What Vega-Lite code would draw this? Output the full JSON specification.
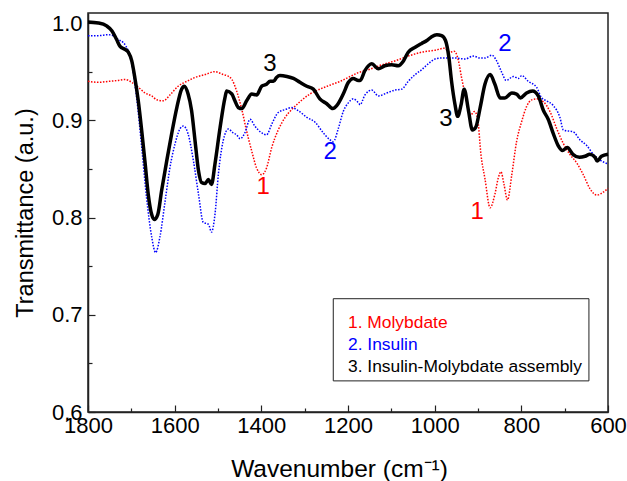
{
  "$schema": "https://vega.github.io/schema/vega-lite/v6.json",
  "autosize": {"type": "none"},
  "width": 520,
  "height": 399,
  "padding": {"left": 88, "top": 13, "right": 19, "bottom": 69},
  "background": "white",
  "config": {
    "font": "Liberation Sans",
    "view": {"stroke": "#222222", "strokeWidth": 1.5},
    "axis": {
      "grid": false,
      "domainColor": "#222222",
      "domainWidth": 1.5,
      "tickColor": "#222222",
      "tickWidth": 1.2,
      "tickSize": -7,
      "labelFont": "Liberation Sans",
      "labelFontSize": 22,
      "labelColor": "black",
      "titleFont": "Liberation Sans",
      "titleFontSize": 23.5,
      "titleFontWeight": "normal",
      "titleColor": "black"
    }
  },
  "resolve": {"axis": {"x": "independent", "y": "independent"}},
  "datasets": {
    "curves": [
      {"s": "Molybdate", "wn": 1800, "t": 0.940}, {"s": "Molybdate", "wn": 1776, "t": 0.939}, {"s": "Molybdate", "wn": 1753, "t": 0.940}, {"s": "Molybdate", "wn": 1730, "t": 0.941}, {"s": "Molybdate", "wn": 1715, "t": 0.942}, {"s": "Molybdate", "wn": 1699, "t": 0.939}, {"s": "Molybdate", "wn": 1684, "t": 0.934}, {"s": "Molybdate", "wn": 1668, "t": 0.928}, {"s": "Molybdate", "wn": 1653, "t": 0.925}, {"s": "Molybdate", "wn": 1641, "t": 0.921}, {"s": "Molybdate", "wn": 1626, "t": 0.920}, {"s": "Molybdate", "wn": 1611, "t": 0.926}, {"s": "Molybdate", "wn": 1592, "t": 0.935}, {"s": "Molybdate", "wn": 1572, "t": 0.940}, {"s": "Molybdate", "wn": 1553, "t": 0.944}, {"s": "Molybdate", "wn": 1530, "t": 0.947}, {"s": "Molybdate", "wn": 1507, "t": 0.950}, {"s": "Molybdate", "wn": 1488, "t": 0.947}, {"s": "Molybdate", "wn": 1480, "t": 0.946}, {"s": "Molybdate", "wn": 1468, "t": 0.942}, {"s": "Molybdate", "wn": 1457, "t": 0.930}, {"s": "Molybdate", "wn": 1445, "t": 0.911}, {"s": "Molybdate", "wn": 1434, "t": 0.889}, {"s": "Molybdate", "wn": 1422, "t": 0.868}, {"s": "Molybdate", "wn": 1411, "t": 0.851}, {"s": "Molybdate", "wn": 1399, "t": 0.844}, {"s": "Molybdate", "wn": 1388, "t": 0.851}, {"s": "Molybdate", "wn": 1376, "t": 0.872}, {"s": "Molybdate", "wn": 1361, "t": 0.890}, {"s": "Molybdate", "wn": 1345, "t": 0.903}, {"s": "Molybdate", "wn": 1330, "t": 0.911}, {"s": "Molybdate", "wn": 1311, "t": 0.919}, {"s": "Molybdate", "wn": 1288, "t": 0.927}, {"s": "Molybdate", "wn": 1265, "t": 0.932}, {"s": "Molybdate", "wn": 1242, "t": 0.936}, {"s": "Molybdate", "wn": 1218, "t": 0.940}, {"s": "Molybdate", "wn": 1195, "t": 0.945}, {"s": "Molybdate", "wn": 1176, "t": 0.949}, {"s": "Molybdate", "wn": 1153, "t": 0.952}, {"s": "Molybdate", "wn": 1122, "t": 0.957}, {"s": "Molybdate", "wn": 1092, "t": 0.961}, {"s": "Molybdate", "wn": 1061, "t": 0.966}, {"s": "Molybdate", "wn": 1030, "t": 0.970}, {"s": "Molybdate", "wn": 999, "t": 0.972}, {"s": "Molybdate", "wn": 978, "t": 0.974}, {"s": "Molybdate", "wn": 965, "t": 0.970}, {"s": "Molybdate", "wn": 955, "t": 0.971}, {"s": "Molybdate", "wn": 945, "t": 0.961}, {"s": "Molybdate", "wn": 938, "t": 0.944}, {"s": "Molybdate", "wn": 930, "t": 0.927}, {"s": "Molybdate", "wn": 918, "t": 0.905}, {"s": "Molybdate", "wn": 908, "t": 0.909}, {"s": "Molybdate", "wn": 901, "t": 0.902}, {"s": "Molybdate", "wn": 893, "t": 0.864}, {"s": "Molybdate", "wn": 884, "t": 0.840}, {"s": "Molybdate", "wn": 872, "t": 0.810}, {"s": "Molybdate", "wn": 861, "t": 0.824}, {"s": "Molybdate", "wn": 853, "t": 0.841}, {"s": "Molybdate", "wn": 847, "t": 0.847}, {"s": "Molybdate", "wn": 840, "t": 0.834}, {"s": "Molybdate", "wn": 832, "t": 0.818}, {"s": "Molybdate", "wn": 822, "t": 0.844}, {"s": "Molybdate", "wn": 811, "t": 0.878}, {"s": "Molybdate", "wn": 799, "t": 0.899}, {"s": "Molybdate", "wn": 788, "t": 0.914}, {"s": "Molybdate", "wn": 776, "t": 0.921}, {"s": "Molybdate", "wn": 765, "t": 0.922}, {"s": "Molybdate", "wn": 749, "t": 0.919}, {"s": "Molybdate", "wn": 734, "t": 0.909}, {"s": "Molybdate", "wn": 718, "t": 0.891}, {"s": "Molybdate", "wn": 703, "t": 0.876}, {"s": "Molybdate", "wn": 688, "t": 0.865}, {"s": "Molybdate", "wn": 672, "t": 0.856}, {"s": "Molybdate", "wn": 657, "t": 0.844}, {"s": "Molybdate", "wn": 642, "t": 0.830}, {"s": "Molybdate", "wn": 626, "t": 0.823}, {"s": "Molybdate", "wn": 611, "t": 0.826}, {"s": "Molybdate", "wn": 600, "t": 0.830},

      {"s": "Insulin", "wn": 1800, "t": 0.987}, {"s": "Insulin", "wn": 1776, "t": 0.987}, {"s": "Insulin", "wn": 1753, "t": 0.988}, {"s": "Insulin", "wn": 1742, "t": 0.987}, {"s": "Insulin", "wn": 1730, "t": 0.983}, {"s": "Insulin", "wn": 1719, "t": 0.980}, {"s": "Insulin", "wn": 1707, "t": 0.971}, {"s": "Insulin", "wn": 1699, "t": 0.958}, {"s": "Insulin", "wn": 1688, "t": 0.924}, {"s": "Insulin", "wn": 1676, "t": 0.872}, {"s": "Insulin", "wn": 1665, "t": 0.821}, {"s": "Insulin", "wn": 1653, "t": 0.780}, {"s": "Insulin", "wn": 1644, "t": 0.764}, {"s": "Insulin", "wn": 1634, "t": 0.780}, {"s": "Insulin", "wn": 1622, "t": 0.817}, {"s": "Insulin", "wn": 1611, "t": 0.851}, {"s": "Insulin", "wn": 1599, "t": 0.876}, {"s": "Insulin", "wn": 1588, "t": 0.891}, {"s": "Insulin", "wn": 1580, "t": 0.894}, {"s": "Insulin", "wn": 1569, "t": 0.886}, {"s": "Insulin", "wn": 1557, "t": 0.859}, {"s": "Insulin", "wn": 1545, "t": 0.824}, {"s": "Insulin", "wn": 1534, "t": 0.795}, {"s": "Insulin", "wn": 1522, "t": 0.793}, {"s": "Insulin", "wn": 1515, "t": 0.785}, {"s": "Insulin", "wn": 1507, "t": 0.803}, {"s": "Insulin", "wn": 1499, "t": 0.845}, {"s": "Insulin", "wn": 1488, "t": 0.879}, {"s": "Insulin", "wn": 1476, "t": 0.891}, {"s": "Insulin", "wn": 1465, "t": 0.887}, {"s": "Insulin", "wn": 1457, "t": 0.885}, {"s": "Insulin", "wn": 1449, "t": 0.881}, {"s": "Insulin", "wn": 1438, "t": 0.887}, {"s": "Insulin", "wn": 1426, "t": 0.901}, {"s": "Insulin", "wn": 1415, "t": 0.894}, {"s": "Insulin", "wn": 1399, "t": 0.887}, {"s": "Insulin", "wn": 1388, "t": 0.885}, {"s": "Insulin", "wn": 1376, "t": 0.896}, {"s": "Insulin", "wn": 1361, "t": 0.908}, {"s": "Insulin", "wn": 1345, "t": 0.911}, {"s": "Insulin", "wn": 1330, "t": 0.913}, {"s": "Insulin", "wn": 1315, "t": 0.910}, {"s": "Insulin", "wn": 1295, "t": 0.903}, {"s": "Insulin", "wn": 1276, "t": 0.898}, {"s": "Insulin", "wn": 1257, "t": 0.887}, {"s": "Insulin", "wn": 1242, "t": 0.880}, {"s": "Insulin", "wn": 1234, "t": 0.878}, {"s": "Insulin", "wn": 1222, "t": 0.892}, {"s": "Insulin", "wn": 1211, "t": 0.909}, {"s": "Insulin", "wn": 1199, "t": 0.918}, {"s": "Insulin", "wn": 1188, "t": 0.922}, {"s": "Insulin", "wn": 1176, "t": 0.918}, {"s": "Insulin", "wn": 1172, "t": 0.916}, {"s": "Insulin", "wn": 1161, "t": 0.926}, {"s": "Insulin", "wn": 1145, "t": 0.931}, {"s": "Insulin", "wn": 1130, "t": 0.925}, {"s": "Insulin", "wn": 1111, "t": 0.928}, {"s": "Insulin", "wn": 1092, "t": 0.931}, {"s": "Insulin", "wn": 1076, "t": 0.932}, {"s": "Insulin", "wn": 1061, "t": 0.940}, {"s": "Insulin", "wn": 1045, "t": 0.947}, {"s": "Insulin", "wn": 1030, "t": 0.952}, {"s": "Insulin", "wn": 1015, "t": 0.958}, {"s": "Insulin", "wn": 999, "t": 0.963}, {"s": "Insulin", "wn": 984, "t": 0.964}, {"s": "Insulin", "wn": 953, "t": 0.964}, {"s": "Insulin", "wn": 930, "t": 0.963}, {"s": "Insulin", "wn": 911, "t": 0.966}, {"s": "Insulin", "wn": 895, "t": 0.964}, {"s": "Insulin", "wn": 884, "t": 0.964}, {"s": "Insulin", "wn": 868, "t": 0.967}, {"s": "Insulin", "wn": 857, "t": 0.961}, {"s": "Insulin", "wn": 845, "t": 0.949}, {"s": "Insulin", "wn": 835, "t": 0.941}, {"s": "Insulin", "wn": 818, "t": 0.945}, {"s": "Insulin", "wn": 807, "t": 0.943}, {"s": "Insulin", "wn": 799, "t": 0.946}, {"s": "Insulin", "wn": 784, "t": 0.940}, {"s": "Insulin", "wn": 765, "t": 0.934}, {"s": "Insulin", "wn": 753, "t": 0.923}, {"s": "Insulin", "wn": 742, "t": 0.920}, {"s": "Insulin", "wn": 726, "t": 0.915}, {"s": "Insulin", "wn": 711, "t": 0.903}, {"s": "Insulin", "wn": 703, "t": 0.890}, {"s": "Insulin", "wn": 692, "t": 0.889}, {"s": "Insulin", "wn": 680, "t": 0.888}, {"s": "Insulin", "wn": 665, "t": 0.880}, {"s": "Insulin", "wn": 649, "t": 0.874}, {"s": "Insulin", "wn": 634, "t": 0.865}, {"s": "Insulin", "wn": 618, "t": 0.859}, {"s": "Insulin", "wn": 600, "t": 0.855},

      {"s": "Assembly", "wn": 1800, "t": 1.001}, {"s": "Assembly", "wn": 1776, "t": 1.000}, {"s": "Assembly", "wn": 1757, "t": 0.997}, {"s": "Assembly", "wn": 1745, "t": 0.992}, {"s": "Assembly", "wn": 1734, "t": 0.983}, {"s": "Assembly", "wn": 1726, "t": 0.976}, {"s": "Assembly", "wn": 1715, "t": 0.973}, {"s": "Assembly", "wn": 1707, "t": 0.970}, {"s": "Assembly", "wn": 1699, "t": 0.961}, {"s": "Assembly", "wn": 1692, "t": 0.944}, {"s": "Assembly", "wn": 1684, "t": 0.920}, {"s": "Assembly", "wn": 1676, "t": 0.889}, {"s": "Assembly", "wn": 1668, "t": 0.855}, {"s": "Assembly", "wn": 1661, "t": 0.824}, {"s": "Assembly", "wn": 1653, "t": 0.803}, {"s": "Assembly", "wn": 1647, "t": 0.798}, {"s": "Assembly", "wn": 1639, "t": 0.803}, {"s": "Assembly", "wn": 1630, "t": 0.828}, {"s": "Assembly", "wn": 1618, "t": 0.859}, {"s": "Assembly", "wn": 1607, "t": 0.886}, {"s": "Assembly", "wn": 1595, "t": 0.913}, {"s": "Assembly", "wn": 1584, "t": 0.932}, {"s": "Assembly", "wn": 1578, "t": 0.935}, {"s": "Assembly", "wn": 1569, "t": 0.927}, {"s": "Assembly", "wn": 1561, "t": 0.910}, {"s": "Assembly", "wn": 1553, "t": 0.879}, {"s": "Assembly", "wn": 1545, "t": 0.848}, {"s": "Assembly", "wn": 1538, "t": 0.836}, {"s": "Assembly", "wn": 1530, "t": 0.835}, {"s": "Assembly", "wn": 1522, "t": 0.839}, {"s": "Assembly", "wn": 1515, "t": 0.834}, {"s": "Assembly", "wn": 1507, "t": 0.855}, {"s": "Assembly", "wn": 1495, "t": 0.893}, {"s": "Assembly", "wn": 1484, "t": 0.923}, {"s": "Assembly", "wn": 1480, "t": 0.930}, {"s": "Assembly", "wn": 1468, "t": 0.927}, {"s": "Assembly", "wn": 1461, "t": 0.920}, {"s": "Assembly", "wn": 1453, "t": 0.913}, {"s": "Assembly", "wn": 1445, "t": 0.912}, {"s": "Assembly", "wn": 1434, "t": 0.920}, {"s": "Assembly", "wn": 1422, "t": 0.927}, {"s": "Assembly", "wn": 1411, "t": 0.926}, {"s": "Assembly", "wn": 1399, "t": 0.935}, {"s": "Assembly", "wn": 1388, "t": 0.937}, {"s": "Assembly", "wn": 1380, "t": 0.940}, {"s": "Assembly", "wn": 1372, "t": 0.940}, {"s": "Assembly", "wn": 1365, "t": 0.944}, {"s": "Assembly", "wn": 1357, "t": 0.946}, {"s": "Assembly", "wn": 1341, "t": 0.945}, {"s": "Assembly", "wn": 1326, "t": 0.943}, {"s": "Assembly", "wn": 1311, "t": 0.939}, {"s": "Assembly", "wn": 1295, "t": 0.935}, {"s": "Assembly", "wn": 1280, "t": 0.932}, {"s": "Assembly", "wn": 1265, "t": 0.922}, {"s": "Assembly", "wn": 1249, "t": 0.917}, {"s": "Assembly", "wn": 1235, "t": 0.912}, {"s": "Assembly", "wn": 1226, "t": 0.915}, {"s": "Assembly", "wn": 1211, "t": 0.927}, {"s": "Assembly", "wn": 1199, "t": 0.939}, {"s": "Assembly", "wn": 1188, "t": 0.943}, {"s": "Assembly", "wn": 1176, "t": 0.941}, {"s": "Assembly", "wn": 1172, "t": 0.941}, {"s": "Assembly", "wn": 1161, "t": 0.951}, {"s": "Assembly", "wn": 1145, "t": 0.958}, {"s": "Assembly", "wn": 1130, "t": 0.953}, {"s": "Assembly", "wn": 1115, "t": 0.956}, {"s": "Assembly", "wn": 1099, "t": 0.957}, {"s": "Assembly", "wn": 1084, "t": 0.956}, {"s": "Assembly", "wn": 1072, "t": 0.961}, {"s": "Assembly", "wn": 1061, "t": 0.970}, {"s": "Assembly", "wn": 1045, "t": 0.975}, {"s": "Assembly", "wn": 1030, "t": 0.979}, {"s": "Assembly", "wn": 1018, "t": 0.982}, {"s": "Assembly", "wn": 1007, "t": 0.986}, {"s": "Assembly", "wn": 995, "t": 0.988}, {"s": "Assembly", "wn": 984, "t": 0.987}, {"s": "Assembly", "wn": 975, "t": 0.982}, {"s": "Assembly", "wn": 967, "t": 0.964}, {"s": "Assembly", "wn": 961, "t": 0.940}, {"s": "Assembly", "wn": 953, "t": 0.916}, {"s": "Assembly", "wn": 947, "t": 0.904}, {"s": "Assembly", "wn": 939, "t": 0.916}, {"s": "Assembly", "wn": 932, "t": 0.932}, {"s": "Assembly", "wn": 922, "t": 0.910}, {"s": "Assembly", "wn": 913, "t": 0.890}, {"s": "Assembly", "wn": 905, "t": 0.893}, {"s": "Assembly", "wn": 895, "t": 0.913}, {"s": "Assembly", "wn": 884, "t": 0.937}, {"s": "Assembly", "wn": 872, "t": 0.947}, {"s": "Assembly", "wn": 861, "t": 0.937}, {"s": "Assembly", "wn": 849, "t": 0.923}, {"s": "Assembly", "wn": 838, "t": 0.923}, {"s": "Assembly", "wn": 822, "t": 0.928}, {"s": "Assembly", "wn": 811, "t": 0.927}, {"s": "Assembly", "wn": 802, "t": 0.923}, {"s": "Assembly", "wn": 788, "t": 0.928}, {"s": "Assembly", "wn": 774, "t": 0.930}, {"s": "Assembly", "wn": 761, "t": 0.925}, {"s": "Assembly", "wn": 749, "t": 0.910}, {"s": "Assembly", "wn": 738, "t": 0.901}, {"s": "Assembly", "wn": 726, "t": 0.886}, {"s": "Assembly", "wn": 715, "t": 0.874}, {"s": "Assembly", "wn": 705, "t": 0.869}, {"s": "Assembly", "wn": 694, "t": 0.872}, {"s": "Assembly", "wn": 681, "t": 0.865}, {"s": "Assembly", "wn": 666, "t": 0.862}, {"s": "Assembly", "wn": 653, "t": 0.863}, {"s": "Assembly", "wn": 642, "t": 0.865}, {"s": "Assembly", "wn": 630, "t": 0.862}, {"s": "Assembly", "wn": 625, "t": 0.858}, {"s": "Assembly", "wn": 615, "t": 0.863}, {"s": "Assembly", "wn": 600, "t": 0.865}
    ],
    "labels": [
      {"wn": 1380, "t": 0.958, "txt": "3", "c": "black"},
      {"wn": 1241, "t": 0.867, "txt": "2", "c": "blue"},
      {"wn": 1396, "t": 0.831, "txt": "1", "c": "red"},
      {"wn": 838, "t": 0.978, "txt": "2", "c": "blue"},
      {"wn": 974, "t": 0.901, "txt": "3", "c": "black"},
      {"wn": 902, "t": 0.806, "txt": "1", "c": "red"}
    ],
    "legendbox": [
      {"x1": 1234, "x2": 644, "y1": 0.632, "y2": 0.7165}
    ],
    "legendtext": [
      {"wn": 1200, "t": 0.6918, "txt": "1. Molybdate", "c": "red"},
      {"wn": 1200, "t": 0.669, "txt": "2. Insulin", "c": "blue"},
      {"wn": 1200, "t": 0.6464, "txt": "3. Insulin-Molybdate assembly", "c": "black"}
    ]
  },
  "layer": [
    {
      "data": {"name": "curves"},
      "transform": [{"filter": "datum.s === 'Molybdate'"}],
      "mark": {"type": "line", "color": "#ff0000", "strokeWidth": 1.5, "strokeDash": [1.5, 1.5], "interpolate": "monotone"},
      "encoding": {
        "x": {"field": "wn", "type": "quantitative", "scale": {"domain": [1800, 600], "nice": false, "zero": false},
          "axis": {"orient": "bottom", "title": "Wavenumber (cm⁻¹)", "values": [1800, 1600, 1400, 1200, 1000, 800, 600], "format": "d", "labelPadding": 10, "titlePadding": 21, "titleFontSize": 24.5, "titleX": 251, "labelFlush": false}},
        "y": {"field": "t", "type": "quantitative", "scale": {"domain": [0.6, 1.0103], "nice": false, "zero": false},
          "axis": {"orient": "left", "title": "Transmittance (a.u.)", "values": [0.6, 0.7, 0.8, 0.9, 1.0], "format": ".1f", "labelPadding": 13, "titlePadding": 14, "labelFlush": false}}
      }
    },
    {
      "data": {"name": "curves"},
      "transform": [{"filter": "datum.s === 'Insulin'"}],
      "mark": {"type": "line", "color": "#0000ff", "strokeWidth": 1.5, "strokeDash": [1.5, 1.5], "interpolate": "monotone"},
      "encoding": {
        "x": {"field": "wn", "type": "quantitative",
          "axis": {"orient": "bottom", "values": [1700, 1500, 1300, 1100, 900, 700], "labels": false, "domain": false, "title": null, "tickSize": -4}},
        "y": {"field": "t", "type": "quantitative",
          "axis": {"orient": "left", "values": [0.65, 0.75, 0.85, 0.95], "labels": false, "domain": false, "title": null, "tickSize": -4}}
      }
    },
    {
      "data": {"name": "curves"},
      "transform": [{"filter": "datum.s === 'Assembly'"}],
      "mark": {"type": "line", "color": "#000000", "strokeWidth": 3.5, "interpolate": "monotone"},
      "encoding": {
        "x": {"field": "wn", "type": "quantitative", "axis": null},
        "y": {"field": "t", "type": "quantitative", "axis": null}
      }
    },
    {
      "data": {"name": "labels"},
      "mark": {"type": "text", "fontSize": 24, "align": "center", "baseline": "middle", "font": "Liberation Sans"},
      "encoding": {
        "x": {"field": "wn", "type": "quantitative", "axis": null},
        "y": {"field": "t", "type": "quantitative", "axis": null},
        "text": {"field": "txt"},
        "color": {"field": "c", "type": "nominal", "scale": null}
      }
    },
    {
      "data": {"name": "legendbox"},
      "mark": {"type": "rect", "fill": "white", "stroke": "#222222", "strokeWidth": 1},
      "encoding": {
        "x": {"field": "x1", "type": "quantitative", "axis": null},
        "x2": {"field": "x2"},
        "y": {"field": "y1", "type": "quantitative", "axis": null},
        "y2": {"field": "y2"}
      }
    },
    {
      "data": {"name": "legendtext"},
      "mark": {"type": "text", "fontSize": 17.4, "align": "left", "baseline": "middle", "font": "Liberation Sans"},
      "encoding": {
        "x": {"field": "wn", "type": "quantitative", "axis": null},
        "y": {"field": "t", "type": "quantitative", "axis": null},
        "text": {"field": "txt"},
        "color": {"field": "c", "type": "nominal", "scale": null}
      }
    }
  ]
}
